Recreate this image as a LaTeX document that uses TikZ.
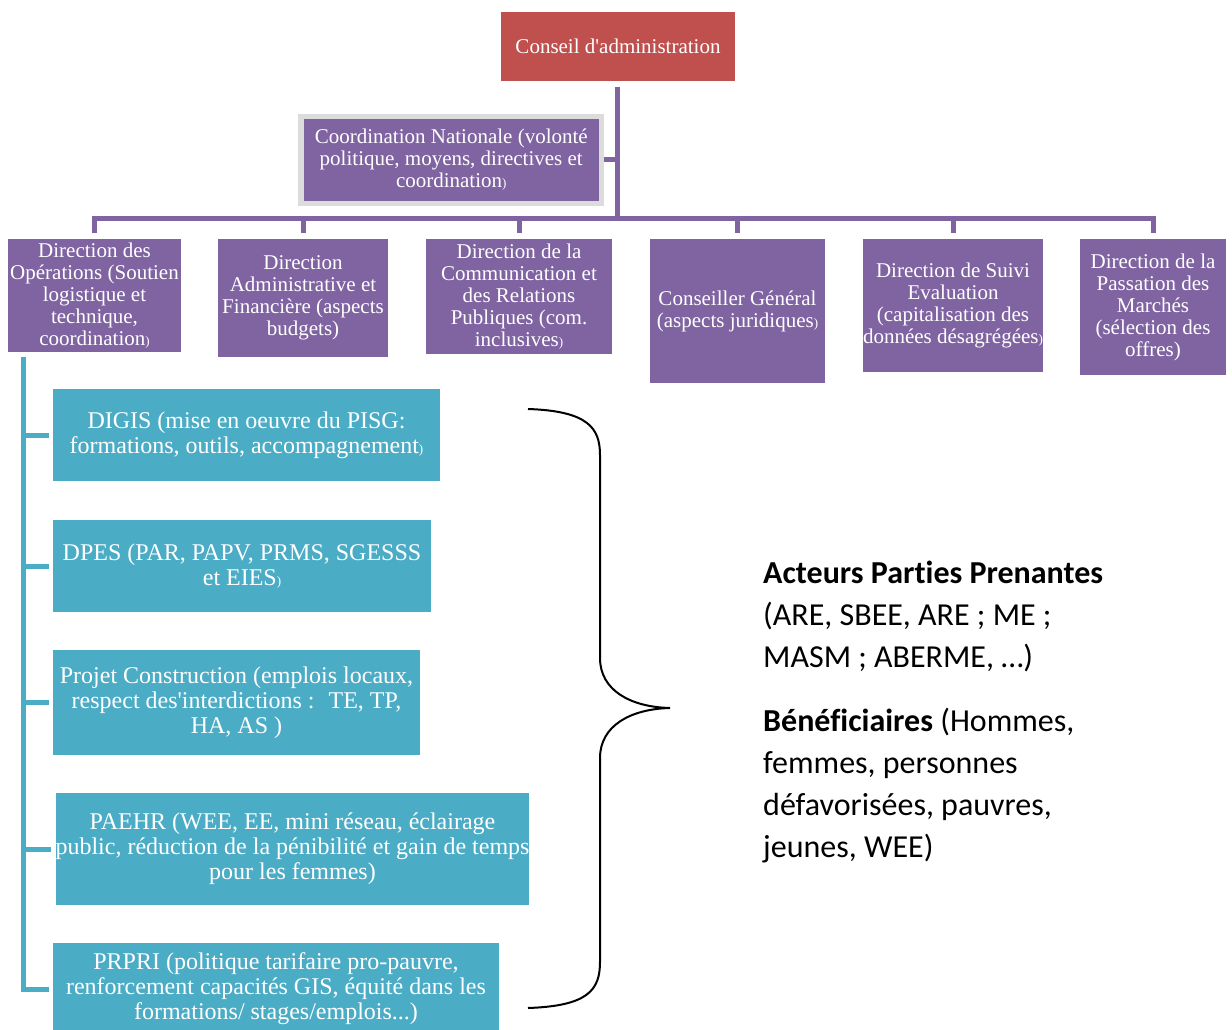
\documentclass[tikz,border=0pt]{standalone}
\usepackage{fontspec}
\setmainfont{Liberation Serif}
\newfontfamily\calib[Ligatures={NoCommon}]{Carlito}
\definecolor{purp}{HTML}{8064A2}
\definecolor{redb}{HTML}{C0504D}
\definecolor{cyanb}{HTML}{4BACC6}
\definecolor{graybd}{HTML}{DCDCDC}
\newcommand\smpar{{\fontsize{13}{13}\selectfont)}}
\tikzset{
  pbox/.style={fill=purp, text=white, inner sep=0pt, align=center, font=\fontsize{21}{22}\selectfont},
  rbox/.style={fill=redb, text=white, inner sep=0pt, align=center, font=\fontsize{21}{22}\selectfont},
  cbox/.style={fill=cyanb, text=white, inner sep=0pt, align=center, font=\fontsize{24}{25}\selectfont},
  pline/.style={draw=purp, line width=5pt},
  cline/.style={draw=cyanb, line width=5pt},
  rtext/.style={anchor=base west, inner sep=0pt, font=\calib\fontsize{32}{42}\selectfont},
}
\begin{document}
\begin{tikzpicture}[x=1pt, y=-1pt]
\useasboundingbox (0,0) rectangle (1232,1030);
% top
\node[rbox, minimum width=234pt, minimum height=69pt] (c0) at (618,46.5) {Conseil d\textquotesingle administration};
\node[pbox, draw=graybd, line width=5.5pt, minimum width=300.5pt, minimum height=86.5pt] (cn) at (451.25,160)
  {Coordination Nationale (volonté\\politique, moyens, directives et\\coordination\smpar};
% directions
\node[pbox, minimum width=173pt, minimum height=113pt] (d1) at (94.5,295.5)
  {Direction des\\Opérations (Soutien\\logistique et\\technique,\\coordination\smpar};
\node[pbox, minimum width=170pt, minimum height=118pt] (d2) at (303,298)
  {Direction\\Administrative et\\Financière (aspects\\budgets)};
\node[pbox, minimum width=186pt, minimum height=115pt] (d3) at (519,296.5)
  {Direction de la\\Communication et\\des Relations\\Publiques (com.\\inclusives\smpar};
\node[pbox, minimum width=175pt, minimum height=144pt] (d4) at (737.5,311)
  {Conseiller Général\\(aspects juridiques\smpar};
\node[pbox, minimum width=180pt, minimum height=133pt] (d5) at (953,305.5)
  {Direction de Suivi\\Evaluation\\(capitalisation des\\données désagrégées\smpar};
\node[pbox, minimum width=146pt, minimum height=136pt] (d6) at (1153,307)
  {Direction de la\\Passation des\\Marchés\\(sélection des\\offres)};
% purple connectors
\coordinate (hub) at (617,218);
\draw[pline] ([yshift=-6pt]c0.south -| hub) -- (hub);
\draw[pline] (cn.east) -- (cn.east -| hub);
\draw[pline] ([yshift=6pt]d1.north) -- (d1.north |- hub) -- (d6.north |- hub) -- ([yshift=6pt]d6.north);
\foreach \n in {d2,d3,d4,d5} \draw[pline] ([yshift=6pt]\n.north) -- (\n.north |- hub);
% cyan boxes
\node[cbox, minimum width=387pt, minimum height=92pt] (k1) at (246.5,435)
  {DIGIS (mise en oeuvre du PISG:\\formations, outils, accompagnement\smpar};
\node[cbox, minimum width=378pt, minimum height=92pt] (k2) at (242,566)
  {DPES (PAR, PAPV, PRMS, SGESSS\\et EIES\smpar};
\node[cbox, minimum width=367pt, minimum height=105pt] (k3) at (236.5,702.5)
  {Projet Construction (emplois locaux,\\respect des\textquotesingle interdictions :~ TE, TP,\\HA, AS )};
\node[cbox, minimum width=471pt, minimum height=112pt] (k4) at (292.5,849)
  {PAEHR (WEE, EE, mini réseau, éclairage\\public, réduction de la pénibilité et gain de temps\\pour les femmes)};
\node[cbox, minimum width=446pt, minimum height=92pt] (k5) at (276,989)
  {PRPRI (politique tarifaire pro-pauvre,\\renforcement capacités GIS, équité dans les\\formations/ stages/emplois...)};
% cyan connectors
\coordinate (cvx) at (23,357);
\draw[cline] (cvx) -- (cvx |- k5.west) -- ([xshift=-4pt]k5.west);
\foreach \n in {k1,k2,k3,k4} \draw[cline] (cvx |- \n.west) -- ([xshift=-4pt]\n.west);
% brace
\coordinate (bt) at (528,409);
\coordinate (bm) at (670,708);
\coordinate (bb) at (528,1008);
\draw[line width=2pt, black] (bt) .. controls (588,411) and (600,428) .. (600,455)
  -- (600,658) .. controls (600,690) and (630,707) .. (bm)
  .. controls (630,709) and (600,726) .. (600,758)
  -- (600,962) .. controls (600,990) and (588,1006) .. (bb);
% right text
\node[rtext] (t1) at (763,583) {\textbf{Acteurs Parties Prenantes}};
\node[rtext] (t2) at (763,625) {(ARE, SBEE, ARE ; ME ;};
\node[rtext] (t3) at (763,667) {MASM ; ABERME, …)};
\node[rtext] (t4) at (763,731) {\textbf{Bénéficiaires} (Hommes,};
\node[rtext] (t5) at (763,773) {femmes, personnes};
\node[rtext] (t6) at (763,815) {défavorisées, pauvres,};
\node[rtext] (t7) at (763,857) {jeunes, WEE)};
\end{tikzpicture}
\end{document}
